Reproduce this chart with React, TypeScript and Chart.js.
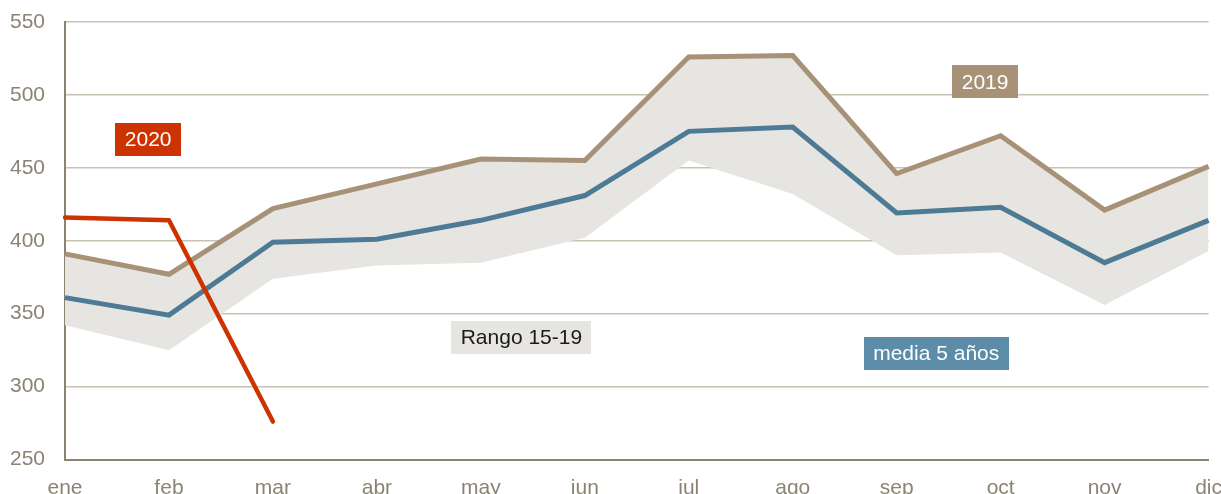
import React, { useEffect, useRef } from "react";
import { Chart, registerables } from "chart.js";

Chart.register(...registerables);

const months = ["ene", "feb", "mar", "abr", "may", "jun", "jul", "ago", "sep", "oct", "nov", "dic"];
const yTicks = [250, 300, 350, 400, 450, 500, 550];
const series2019 = [391, 377, 422, 439, 456, 455, 526, 527, 446, 472, 421, 451];
const media5 = [361, 349, 399, 401, 414, 431, 475, 478, 419, 423, 385, 414];
const rangeMax = [391, 377, 422, 439, 456, 455, 526, 527, 446, 472, 421, 451];
const rangeMin = [342, 325, 374, 383, 385, 402, 455, 432, 390, 392, 356, 393];
const series2020 = [416, 414, 276];

const labelTexts = ["2020", "2019", "Rango 15-19", "media 5 años"];
const labelX = [0.8, 8.85, 4.39, 8.38];
const labelY = [469.4, 509, 333.8, 322.8];

const FONT = "'Liberation Sans', Arial, Helvetica, sans-serif";

const labelStyles = [
  { bg: "#cc3300", color: "#ffffff" },
  { bg: "#a89277", color: "#ffffff" },
  { bg: "#e7e5e1", color: "#1a1a1a" },
  { bg: "#5d8ca8", color: "#ffffff" },
];

const boxLabels = {
  id: "boxLabels",
  afterDatasetsDraw(chart: any) {
    const { ctx, scales } = chart;
    const xs = scales.x;
    const ys = scales.y;
    ctx.save();
    ctx.font = `21px ${FONT}`;
    ctx.textAlign = "center";
    ctx.textBaseline = "middle";
    labelTexts.forEach((t, i) => {
      const x0 = xs.getPixelForValue(0);
      const x1 = xs.getPixelForValue(1);
      const cx = x0 + (x1 - x0) * labelX[i];
      const cy = ys.getPixelForValue(labelY[i]);
      const w = ctx.measureText(t).width + 19;
      const h = 33;
      ctx.fillStyle = labelStyles[i].bg;
      ctx.fillRect(Math.round(cx - w / 2), Math.round(cy - h / 2), Math.round(w), h);
      ctx.fillStyle = labelStyles[i].color;
      ctx.fillText(t, cx, cy + 1);
    });
    ctx.restore();
  },
};

export default function App() {
  const ref = useRef<HTMLCanvasElement | null>(null);
  useEffect(() => {
    document.body.style.margin = "0";
    document.body.style.overflow = "hidden";
    document.documentElement.style.overflow = "hidden";
    const chart = new Chart(ref.current as HTMLCanvasElement, {
      type: "line",
      data: {
        labels: months,
        datasets: [
          {
            label: "2020",
            data: series2020,
            borderColor: "#cc3300",
            borderWidth: 4.5,
            borderCapStyle: "round",
            borderJoinStyle: "round",
            pointRadius: 0,
            fill: false,
            tension: 0,
          },
          {
            label: "media 5 años",
            data: media5,
            borderColor: "#4d7a94",
            borderWidth: 5,
            borderJoinStyle: "miter",
            pointRadius: 0,
            fill: false,
            tension: 0,
          },
          {
            label: "2019",
            data: series2019,
            borderColor: "#a89277",
            borderWidth: 5,
            borderJoinStyle: "miter",
            pointRadius: 0,
            fill: false,
            tension: 0,
          },
          {
            label: "max",
            data: rangeMax,
            borderWidth: 0,
            borderColor: "rgba(0,0,0,0)",
            backgroundColor: "#e7e5e1",
            pointRadius: 0,
            fill: "+1",
            tension: 0,
          },
          {
            label: "min",
            data: rangeMin,
            borderWidth: 0,
            borderColor: "rgba(0,0,0,0)",
            pointRadius: 0,
            fill: false,
            tension: 0,
          },
        ],
      },
      options: {
        responsive: true,
        maintainAspectRatio: false,
        animation: false,
        layout: { padding: 0 },
        plugins: {
          legend: { display: false },
          tooltip: { enabled: false },
          title: { display: false },
        },
        scales: {
          x: {
            offset: false,
            grid: { display: false, drawTicks: false },
            border: { display: true, color: "#8c8270", width: 2 },
            ticks: {
              color: "#8b8373",
              font: { family: FONT, size: 21 },
              padding: 16,
              maxRotation: 0,
              autoSkip: false,
            },
            afterFit: (axis: any) => {
              axis.height = 38.5;
            },
          },
          y: {
            min: 250,
            max: 550,
            afterBuildTicks: (axis: any) => {
              axis.ticks = yTicks.map((v) => ({ value: v }));
            },
            grid: { color: "#c9c2b4", lineWidth: 1.5, drawTicks: false },
            border: { display: true, color: "#8c8270", width: 2 },
            ticks: {
              color: "#8b8373",
              font: { family: FONT, size: 21 },
              padding: 20,
            },
            afterFit: (axis: any) => {
              axis.width = 65;
              axis.paddingTop = 22;
              axis.paddingBottom = 0;
            },
          },
        },
      },
      plugins: [boxLabels],
    } as any);
    return () => chart.destroy();
  }, []);
  return (
    <div style={{ position: "relative", width: 1238, height: 498 }}>
      <canvas ref={ref} />
    </div>
  );
}
